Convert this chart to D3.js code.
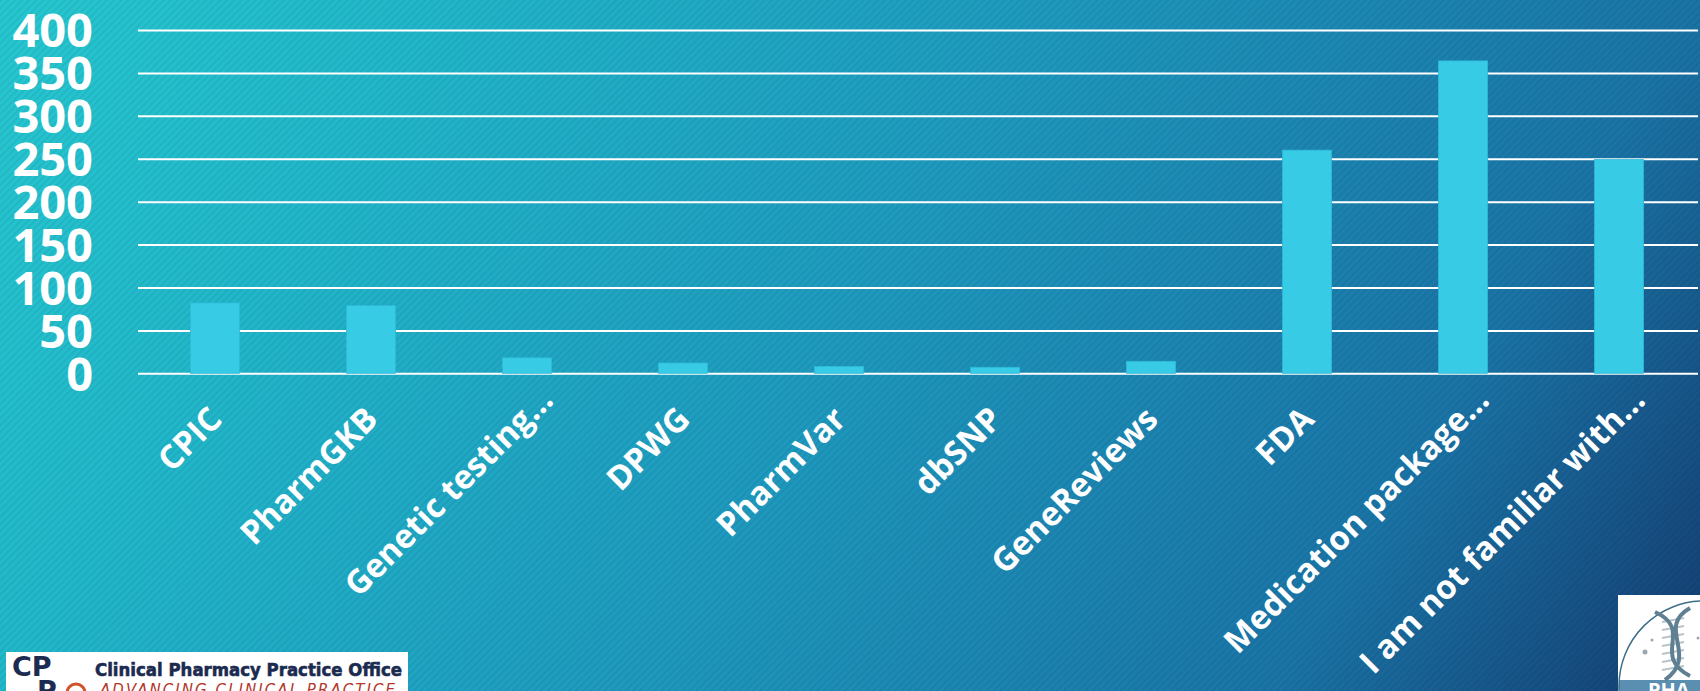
<!DOCTYPE html>
<html>
<head>
<meta charset="utf-8">
<script src="https://cdn.jsdelivr.net/npm/d3@7"></script>
<style>
  html, body { margin: 0; padding: 0; background: #1f9dbf; }
  svg { display: block; }
</style>
</head>
<body>
<div id="chart"></div>
<script>
// ---- data ----
const categories = ["CPIC", "PharmGKB", "Genetic testing…", "DPWG", "PharmVar", "dbSNP", "GeneReviews", "FDA", "Medication package…", "I am not familiar with…"];
const values = [82, 79, 18, 12, 8, 7, 14, 260, 364, 249];
const yTicks = [0, 50, 100, 150, 200, 250, 300, 350, 400];

const W = 1700, H = 691;
const plotLeft = 137, plotRight = 1697, plotTop = 30, plotBottom = 373.3;
const FONT = "'Open Sans', 'Noto Sans', sans-serif";

const svg = d3.select("#chart").append("svg").attr("width", W).attr("height", H);
const defs = svg.append("defs");

// background gradient
const grad = defs.append("linearGradient").attr("id", "bg")
  .attr("gradientUnits", "userSpaceOnUse")
  .attr("x1", 0).attr("y1", 0).attr("x2", 2056).attr("y2", 1264);
[[0, "#26c7d0"], [0.15, "#21b7ca"], [0.38, "#1e98bd"], [0.6, "#1a74a6"], [0.75, "#143b70"]]
  .forEach(([o, c]) => grad.append("stop").attr("offset", o).attr("stop-color", c));

// fine diagonal stripes
const pat = defs.append("pattern").attr("id", "stripes")
  .attr("patternUnits", "userSpaceOnUse").attr("width", 5).attr("height", 10)
  .attr("patternTransform", "rotate(45)");
pat.append("rect").attr("x", 0).attr("y", 0).attr("width", 1.6).attr("height", 10)
  .attr("fill", "#000").attr("fill-opacity", 0.07);

svg.append("rect").attr("width", W).attr("height", H).attr("fill", "url(#bg)");
svg.append("rect").attr("width", W).attr("height", H).attr("fill", "url(#stripes)");

// scales
const x = d3.scaleBand().domain(categories).range([plotLeft, plotRight])
  .paddingInner(0.686).paddingOuter(0.343);
const y = d3.scaleLinear().domain([0, 400]).range([plotBottom, plotTop]);

// y axis with gridlines
const yAxis = svg.append("g").attr("transform", `translate(${plotLeft + 1},0)`)
  .call(d3.axisLeft(y).tickValues(yTicks).tickSize(-(plotRight - plotLeft)).tickPadding(45).tickFormat(d3.format("d")));
yAxis.select(".domain").remove();
yAxis.selectAll(".tick line").attr("stroke", "#ffffff").attr("stroke-width", 2);
yAxis.selectAll(".tick text")
  .attr("fill", "#ffffff").attr("font-family", FONT).attr("font-weight", 700)
  .attr("font-size", 47).attr("dy", "0.36em");

// bars
svg.append("g").selectAll("rect").data(values).join("rect")
  .attr("x", (d, i) => x(categories[i]))
  .attr("width", x.bandwidth())
  .attr("y", d => y(d))
  .attr("height", d => y(0) - y(d))
  .attr("fill", "#37cbe6")
  .attr("stroke", "#2fbad8").attr("stroke-width", 0.8);

// x axis labels (truncated labels sit a little further along their own direction)
const xAxis = svg.append("g").attr("transform", `translate(0,${plotBottom})`)
  .call(d3.axisBottom(x).tickSize(0));
xAxis.select(".domain").remove();
xAxis.selectAll(".tick text")
  .attr("x", d => d.endsWith("…") ? 27 : 0).attr("y", 0).attr("dy", "0.72em")
  .attr("transform", "translate(-8,31) rotate(-45)")
  .attr("text-anchor", "end")
  .attr("fill", "#ffffff").attr("font-family", FONT).attr("font-weight", 700)
  .attr("font-size", 33);

// ---- bottom-left logo (decoration) ----
const lg = svg.append("g");
lg.append("rect").attr("x", 6).attr("y", 652).attr("width", 402).attr("height", 40).attr("fill", "#ffffff");
lg.append("text").attr("x", 12).attr("y", 676).text("CP")
  .attr("font-family", "'DejaVu Sans', sans-serif").attr("font-weight", 700).attr("font-size", 27)
  .attr("fill", "#1c2b52");
lg.append("text").attr("x", 37).attr("y", 700).text("P")
  .attr("font-family", "'DejaVu Sans', sans-serif").attr("font-weight", 700).attr("font-size", 27)
  .attr("fill", "#1c2b52");
lg.append("circle").attr("cx", 76).attr("cy", 693).attr("r", 9)
  .attr("fill", "none").attr("stroke", "#d0532c").attr("stroke-width", 3);
lg.append("text").attr("x", 95).attr("y", 676).text("Clinical Pharmacy Practice Office")
  .attr("font-family", "'DejaVu Sans', sans-serif").attr("font-weight", 700).attr("font-size", 18)
  .attr("textLength", 307).attr("lengthAdjust", "spacingAndGlyphs")
  .attr("fill", "#1b2a4f").attr("stroke", "#1b2a4f").attr("stroke-width", 0.6);
lg.append("text").attr("x", 100).attr("y", 695).text("ADVANCING CLINICAL PRACTICE")
  .attr("font-family", "'DejaVu Sans', sans-serif").attr("font-style", "italic").attr("font-size", 15)
  .attr("textLength", 295).attr("lengthAdjust", "spacing")
  .attr("fill", "#b5372b");

// ---- bottom-right logo (decoration) ----
const rg = svg.append("g");
defs.append("clipPath").attr("id", "circClip").append("circle").attr("cx", 1704).attr("cy", 686).attr("r", 85);
rg.append("rect").attr("x", 1618).attr("y", 595).attr("width", 82).attr("height", 96).attr("fill", "#ffffff");
rg.append("rect").attr("x", 1600).attr("y", 680).attr("width", 110).attr("height", 20)
  .attr("fill", "#5b8fb2").attr("clip-path", "url(#circClip)");
rg.append("circle").attr("cx", 1704).attr("cy", 686).attr("r", 85)
  .attr("fill", "none").attr("stroke", "#3e6f88").attr("stroke-width", 1.5);
// helix rungs
[622, 630, 638, 646, 654, 662, 670].forEach(yy =>
  rg.append("line").attr("x1", 1662).attr("x2", 1684).attr("y1", yy).attr("y2", yy - 4)
    .attr("stroke", "#b9c3ca").attr("stroke-width", 2));
rg.append("path").attr("d", "M1655,612 C1695,630 1650,655 1690,676")
  .attr("fill", "none").attr("stroke", "#5f7f92").attr("stroke-width", 4);
rg.append("path").attr("d", "M1690,608 C1655,628 1700,655 1665,680")
  .attr("fill", "none").attr("stroke", "#5f7f92").attr("stroke-width", 4);
[[1645, 652, 2.5], [1652, 640, 1.5], [1698, 638, 1.5]].forEach(([cx, cy, r]) =>
  rg.append("circle").attr("cx", cx).attr("cy", cy).attr("r", r).attr("fill", "#9aa7b0"));
rg.append("text").attr("x", 1648).attr("y", 697).text("PHA")
  .attr("font-family", FONT).attr("font-weight", 700).attr("font-size", 20).attr("fill", "#ffffff");
</script>
</body>
</html>
